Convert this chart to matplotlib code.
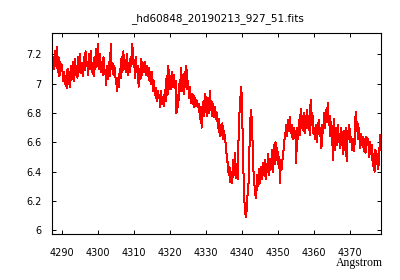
import matplotlib
matplotlib.use("Agg")
import matplotlib.pyplot as plt
import numpy as np

wave_start = 4287.5
wave_step = 0.25
flux = [
    7.18, 7.10,
    7.22, 7.12, 7.25, 7.08,
    7.18, 7.05, 7.15, 7.10,
    7.13, 7.02, 7.08, 7.00,
    7.05, 6.97, 7.10, 7.00,
    7.08, 6.98, 7.12, 7.03,
    7.15, 7.02, 7.17, 7.06,
    7.12, 7.04, 7.18, 7.08,
    7.20, 7.07, 7.14, 7.05,
    7.18, 7.09, 7.22, 7.12,
    7.15, 7.06, 7.20, 7.10,
    7.22, 7.08, 7.14, 7.05,
    7.18, 7.10, 7.24, 7.12,
    7.27, 7.10, 7.20, 7.08,
    7.15, 7.06, 7.18, 7.10,
    7.08, 6.99, 7.12, 7.03,
    7.15, 7.05, 7.27, 7.10,
    7.14, 7.06, 7.12, 7.05,
    7.02, 6.95, 7.04, 6.98,
    7.10, 7.04, 7.18, 7.08,
    7.22, 7.10, 7.16, 7.08,
    7.20, 7.06, 7.14, 7.08,
    7.18, 7.12, 7.27, 7.14,
    7.16, 7.04, 7.18, 7.08,
    7.12, 6.98, 7.10, 7.03,
    7.17, 7.06, 7.14, 7.08,
    7.15, 7.06, 7.12, 7.05,
    7.11, 7.02, 7.08, 7.00,
    7.08, 6.95, 7.02, 6.92,
    6.97, 6.88, 6.95, 6.90,
    6.92, 6.84, 6.95, 6.86,
    6.90, 6.85, 6.96, 6.88,
    7.05, 6.92, 7.12, 6.96,
    7.05, 6.96, 7.08, 6.98,
    7.06, 6.97, 7.02, 6.80,
    6.92, 6.84, 7.00, 6.95,
    7.11, 6.95, 7.06, 6.93,
    7.08, 6.98, 7.12, 6.96,
    7.02, 6.90, 6.98, 6.87,
    6.93, 6.86, 6.92, 6.84,
    6.90, 6.85, 6.88, 6.84,
    6.86, 6.76, 6.84, 6.70,
    6.80, 6.88, 6.78, 6.93,
    6.85, 6.78, 6.90, 6.80,
    6.95, 6.82, 6.88, 6.78,
    6.86, 6.77, 6.84, 6.76,
    6.80, 6.70, 6.76, 6.64,
    6.72, 6.65, 6.73, 6.62,
    6.68, 6.61, 6.58, 6.48,
    6.46, 6.38, 6.43, 6.33,
    6.40, 6.32, 6.48, 6.38,
    6.53, 6.36, 6.45, 6.35,
    6.64, 6.80, 6.90, 6.98,
    6.80, 6.50, 6.25, 6.15,
    6.09, 6.14, 6.25, 6.32,
    6.55, 6.75, 6.82, 6.70,
    6.50, 6.32, 6.30, 6.22,
    6.28, 6.38, 6.30, 6.42,
    6.32, 6.43, 6.35, 6.46,
    6.38, 6.48, 6.35, 6.45,
    6.40, 6.52, 6.38, 6.47,
    6.42, 6.55, 6.40, 6.58,
    6.45, 6.60, 6.48, 6.56,
    6.45, 6.50, 6.32, 6.48,
    6.42, 6.50, 6.55, 6.62,
    6.66, 6.72, 6.64, 6.75,
    6.68, 6.77, 6.66, 6.72,
    6.62, 6.70, 6.63, 6.68,
    6.46, 6.70, 6.62, 6.75,
    6.65, 6.83, 6.70, 6.78,
    6.68, 6.80, 6.66, 6.76,
    6.82, 6.70, 6.78, 6.65,
    6.89, 6.72, 6.80, 6.66,
    6.70, 6.62, 6.72, 6.60,
    6.68, 6.75, 6.64, 6.70,
    6.56, 6.72, 6.66, 6.80,
    6.70, 6.82, 6.74, 6.87,
    6.72, 6.78, 6.64, 6.74,
    6.62, 6.48, 6.76, 6.55,
    6.70, 6.58, 6.72, 6.60,
    6.66, 6.56, 6.70, 6.62,
    6.52, 6.68, 6.55, 6.70,
    6.47, 6.68, 6.62, 6.72,
    6.60, 6.64, 6.55, 6.62,
    6.54, 6.60, 6.81, 6.68,
    6.74, 6.62, 6.70, 6.56,
    6.66, 6.58, 6.64, 6.54,
    6.62, 6.53, 6.64, 6.58,
    6.62, 6.50, 6.60, 6.52,
    6.58, 6.44, 6.52, 6.40,
    6.55, 6.45, 6.52, 6.42,
    6.48, 6.65, 6.55,
]
xticks = [4290, 4300, 4310, 4320, 4330, 4340, 4350, 4360, 4370]
yticks = [6.0, 6.2, 6.4, 6.6, 6.8, 7.0, 7.2]
ytick_labels = ["6", "6.2", "6.4", "6.6", "6.8", "7", "7.2"]
title = "_hd60848_20190213_927_51.fits"

wave = wave_start + wave_step * np.arange(len(flux))

fig = plt.figure(figsize=(4, 2.8), dpi=100)
ax = fig.add_axes([0.131, 0.164, 0.822, 0.718])
# gnuplot-style crisp 1px line
ax.plot(wave, flux, color="red", lw=0.72, antialiased=False)

ax.set_xlim(4287.3, 4378.6)
ax.set_ylim(5.975, 7.345)
ax.set_xticks(xticks)
ax.set_yticks(yticks)
ax.set_yticklabels(ytick_labels)
ax.tick_params(direction="in", top=True, right=True, length=3, width=0.7,
               labelsize=7)
ax.tick_params(axis="x", pad=10)
ax.tick_params(axis="y", pad=8)
for s in ax.spines.values():
    s.set_linewidth(0.8)

fig.text(0.545, 0.932, title, ha="center", va="center", fontsize=7.5)
fig.text(0.957, 0.06, "Angstrom", ha="right", va="center", fontsize=8.5,
         family="Liberation Serif")

fig.savefig("out.png", dpi=100, facecolor="white")
